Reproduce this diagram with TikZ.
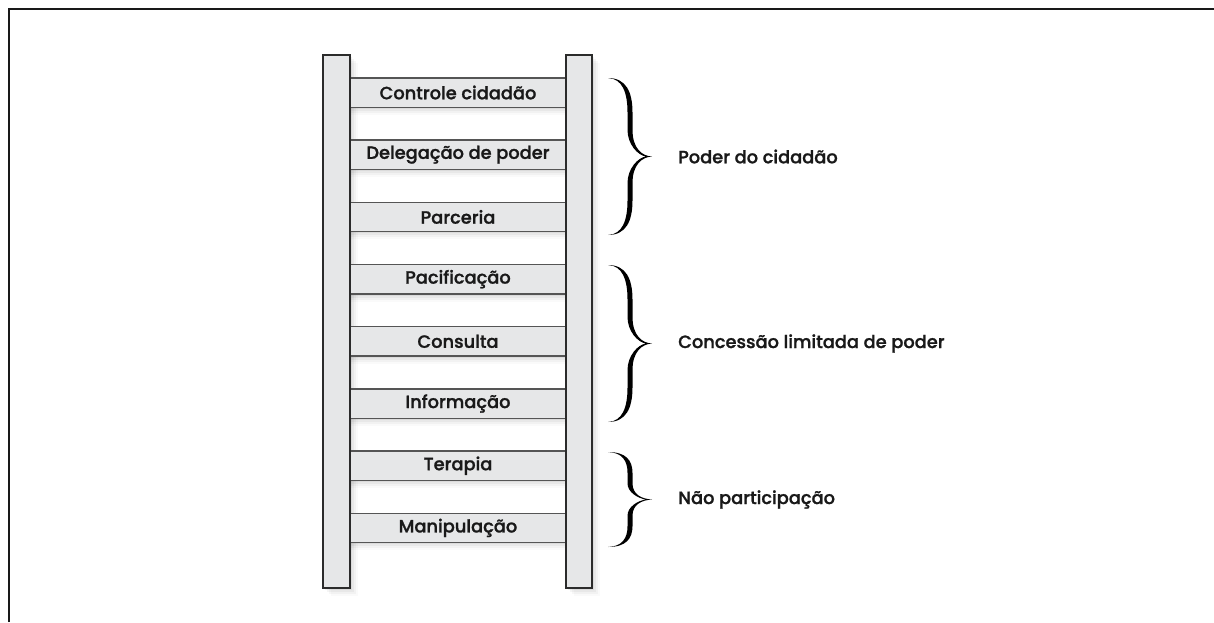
\documentclass[tikz,border=0pt]{standalone}
\usepackage{fontspec}
\setmainfont{Poppins Medium}[FakeBold=1.2]
\usetikzlibrary{calc}
\definecolor{railfill}{HTML}{E6E7E8}
\definecolor{railline}{HTML}{2B2B2B}
\definecolor{rungline}{HTML}{555555}
\newcommand\mybrace[2]{%
 \pgfmathsetmacro\T{#1}\pgfmathsetmacro\B{#2}%
 \pgfmathsetmacro\M{(#1+#2)/2}\pgfmathsetmacro\h{#2-#1}%
 \pgfmathsetmacro\a{0.22*\h}\pgfmathsetmacro\b{0.17*\h}%
 \fill[black] (608,\T) .. controls (626,\T) and (632.5,\T+0.4*\a) .. (632.5,\T+\a)
   -- (632.5,\M-\b) .. controls (632.5,\M-0.3*\b) and (642,\M-0.5) .. (652,\M)
   .. controls (642,\M+0.5) and (632.5,\M+0.3*\b) .. (632.5,\M+\b)
   -- (632.5,\B-\a) .. controls (632.5,\B-0.4*\a) and (626,\B) .. (608,\B)
   .. controls (622,\B-0.6) and (627.5,\B-0.4*\a) .. (627.5,\B-\a)
   -- (627.5,\M+\b) .. controls (627.5,\M+0.45*\b) and (638,\M+1) .. (646,\M)
   .. controls (638,\M-1) and (627.5,\M-0.45*\b) .. (627.5,\M-\b)
   -- (627.5,\T+\a) .. controls (627.5,\T+0.4*\a) and (622,\T+0.6) .. (608,\T) -- cycle;%
}
\begin{document}
\begin{tikzpicture}[x=1pt,y=-1pt,
  rail/.style={draw=railline,line width=1.4pt,fill=railfill,minimum height=533pt,inner sep=0pt},
  rung/.style={fill=railfill,minimum width=216pt,minimum height=29pt,inner sep=0pt,
    font=\fontsize{17.8}{20}\selectfont,text=black!90},
  rungedge/.style={draw=rungline,line width=1.4pt},
  grouplabel/.style={anchor=west,inner sep=0pt,font=\fontsize{17.8}{20}\selectfont,text=black!90},
  frame/.style={draw=black!90,line width=1.6pt}]
\useasboundingbox (0,0) rectangle (1214,622);
\fill[white] (0,0) rectangle (1214,622);
% frame
\coordinate (fbl) at (9,622);
\coordinate (ftl) at (9,9);
\coordinate (ftr) at (1214,9);
\draw[frame] (fbl) -- (ftl) -- (ftr);
% shadows
\foreach \d/\o in {2/0.05,4/0.04,6/0.03,8/0.02}{
  \fill[black,opacity=\o] (323+\d,55+\d) rectangle (350+\d,588+\d);
  \fill[black,opacity=\o] (566+\d,55+\d) rectangle (592+\d,588+\d);
  \foreach \i in {0,...,7}{
    \pgfmathsetmacro\yc{92.5+62.2*\i}
    \fill[black,opacity=\o] (350,\yc-14.5+\d) rectangle (566,\yc+14.5+\d);
  }
}
% rungs
\node[rung] (r1) at (458,92.5) {Controle cidadão};
\node[rung] (r2) at (458,154.7) {Delegação de poder};
\node[rung] (r3) at (458,216.9) {Parceria};
\node[rung] (r4) at (458,279.1) {Pacificação};
\node[rung] (r5) at (458,341.3) {Consulta};
\node[rung] (r6) at (458,403.5) {Informação};
\node[rung] (r7) at (458,465.7) {Terapia};
\node[rung] (r8) at (458,527.9) {Manipulação};
\foreach \r in {r1,r2,r3,r4,r5,r6,r7,r8}{
  \draw[rungedge] (\r.north west) -- (\r.north east);
  \draw[rungedge] (\r.south west) -- (\r.south east);
}
% rails
\node[rail,minimum width=27pt] (L) at (336.5,321.5) {};
\node[rail,minimum width=26pt] (R) at (579,321.5) {};
% braces
\mybrace{78}{235}
\mybrace{265}{422}
\mybrace{452}{547}
\node[grouplabel] (g1) at (678,156.5) {Poder do cidadão};
\node[grouplabel] (g2) at (678,343.5) {Concessão limitada de poder};
\node[grouplabel] (g3) at (678,499.5) {Não participação};
\end{tikzpicture}
\end{document}
